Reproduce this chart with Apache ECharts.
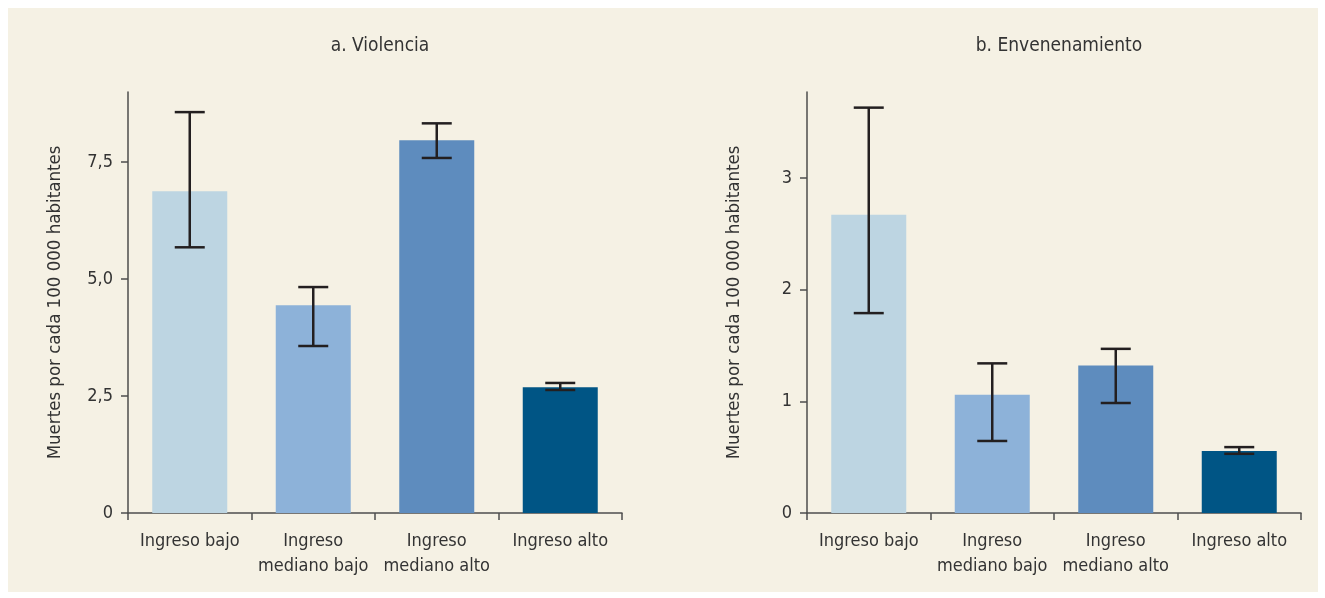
<!DOCTYPE html>
<html>
<head>
<meta charset="utf-8">
<script src="https://cdn.jsdelivr.net/npm/echarts@6/dist/echarts.min.js"></script>
<style>
  html, body { margin: 0; padding: 0; background: #ffffff; }
  #chart { width: 1325px; height: 598px; }
</style>
</head>
<body>
<div id="chart"></div>
<script>
const categories = ["Ingreso bajo", "Ingreso\nmediano bajo", "Ingreso\nmediano alto", "Ingreso alto"];
const barColors = ["#BDD5E2", "#8DB2D9", "#5E8CBE", "#005585"];

// a. Violencia
const violenceValues = [6.88, 4.44, 7.97, 2.69];
const violenceLow = [5.68, 3.57, 7.59, 2.63];
const violenceHigh = [8.57, 4.83, 8.33, 2.78];
const violenceTicks = [0, 2.5, 5, 7.5];

// b. Envenenamiento
const poisonValues = [2.67, 1.06, 1.32, 0.555];
const poisonLow = [1.79, 0.645, 0.985, 0.53];
const poisonHigh = [3.63, 1.34, 1.47, 0.59];
const poisonTicks = [0, 1, 2, 3];

const FONT = '"Liberation Sans Narrow", "DejaVu Sans Condensed", "Roboto", sans-serif';
const AXIS_COLOR = "#4d4d4d";
const TEXT_COLOR = "#333333";

function errorData(low, high) {
  return low.map((l, i) => [i, l, high[i]]);
}

function renderError(params, api) {
  const top = api.coord([api.value(0), api.value(2)]);
  const bot = api.coord([api.value(0), api.value(1)]);
  const half = 15;
  const style = { stroke: "#231F20", lineWidth: 2.5 };
  return {
    type: "group",
    children: [
      { type: "line", shape: { x1: top[0], y1: top[1], x2: bot[0], y2: bot[1] }, style },
      { type: "line", shape: { x1: top[0] - half, y1: top[1], x2: top[0] + half, y2: top[1] }, style },
      { type: "line", shape: { x1: bot[0] - half, y1: bot[1], x2: bot[0] + half, y2: bot[1] }, style }
    ]
  };
}

function xAxis(gridIndex) {
  return {
    type: "category",
    gridIndex,
    data: categories,
    axisLine: { lineStyle: { color: AXIS_COLOR, width: 1.5 } },
    axisTick: { show: true, interval: 0, length: 7, lineStyle: { color: AXIS_COLOR, width: 1.5 } },
    axisLabel: { interval: 0, color: TEXT_COLOR, fontFamily: FONT, fontSize: 18, lineHeight: 25, margin: 16 }
  };
}

function yAxis(gridIndex, max, ticks, fmt) {
  return {
    type: "value",
    gridIndex,
    min: 0,
    max,
    name: "Muertes por cada 100 000 habitantes",
    nameLocation: "middle",
    nameGap: 63,
    nameRotate: 90,
    nameTextStyle: { color: TEXT_COLOR, fontFamily: FONT, fontSize: 18.5 },
    axisLine: { show: true, lineStyle: { color: AXIS_COLOR, width: 1.5 } },
    axisTick: { show: true, length: 7, customValues: ticks, lineStyle: { color: AXIS_COLOR, width: 1.5 } },
    axisLabel: { color: TEXT_COLOR, fontFamily: FONT, fontSize: 18, margin: 15, customValues: ticks, formatter: fmt },
    splitLine: { show: false }
  };
}

const chart = echarts.init(document.getElementById("chart"));
chart.setOption({
  backgroundColor: "#ffffff",
  animation: false,
  graphic: [{
    type: "rect", z: -10, silent: true,
    shape: { x: 8, y: 8, width: 1310, height: 584 },
    style: { fill: "#F5F1E4" }
  }],
  title: [
    { text: "a. Violencia", left: 375, top: 32, textAlign: "center",
      textStyle: { color: TEXT_COLOR, fontFamily: FONT, fontSize: 19, fontWeight: "normal" } },
    { text: "b. Envenenamiento", left: 1054, top: 32, textAlign: "center",
      textStyle: { color: TEXT_COLOR, fontFamily: FONT, fontSize: 19, fontWeight: "normal" } }
  ],
  grid: [
    { left: 128, top: 92, width: 494, height: 421 },
    { left: 807, top: 92, width: 494, height: 421 }
  ],
  xAxis: [xAxis(0), xAxis(1)],
  yAxis: [
    yAxis(0, 9, violenceTicks, v => v === 0 ? "0" : v.toFixed(1).replace(".", ",")),
    yAxis(1, 3.77, poisonTicks, v => String(v))
  ],
  series: [
    {
      type: "bar", xAxisIndex: 0, yAxisIndex: 0, barWidth: 75,
      data: violenceValues.map((v, i) => ({ value: v, itemStyle: { color: barColors[i] } }))
    },
    {
      type: "custom", xAxisIndex: 0, yAxisIndex: 0, z: 5,
      renderItem: renderError, encode: { x: 0, y: [1, 2] },
      data: errorData(violenceLow, violenceHigh)
    },
    {
      type: "bar", xAxisIndex: 1, yAxisIndex: 1, barWidth: 75,
      data: poisonValues.map((v, i) => ({ value: v, itemStyle: { color: barColors[i] } }))
    },
    {
      type: "custom", xAxisIndex: 1, yAxisIndex: 1, z: 5,
      renderItem: renderError, encode: { x: 0, y: [1, 2] },
      data: errorData(poisonLow, poisonHigh)
    }
  ]
});
</script>
</body>
</html>
